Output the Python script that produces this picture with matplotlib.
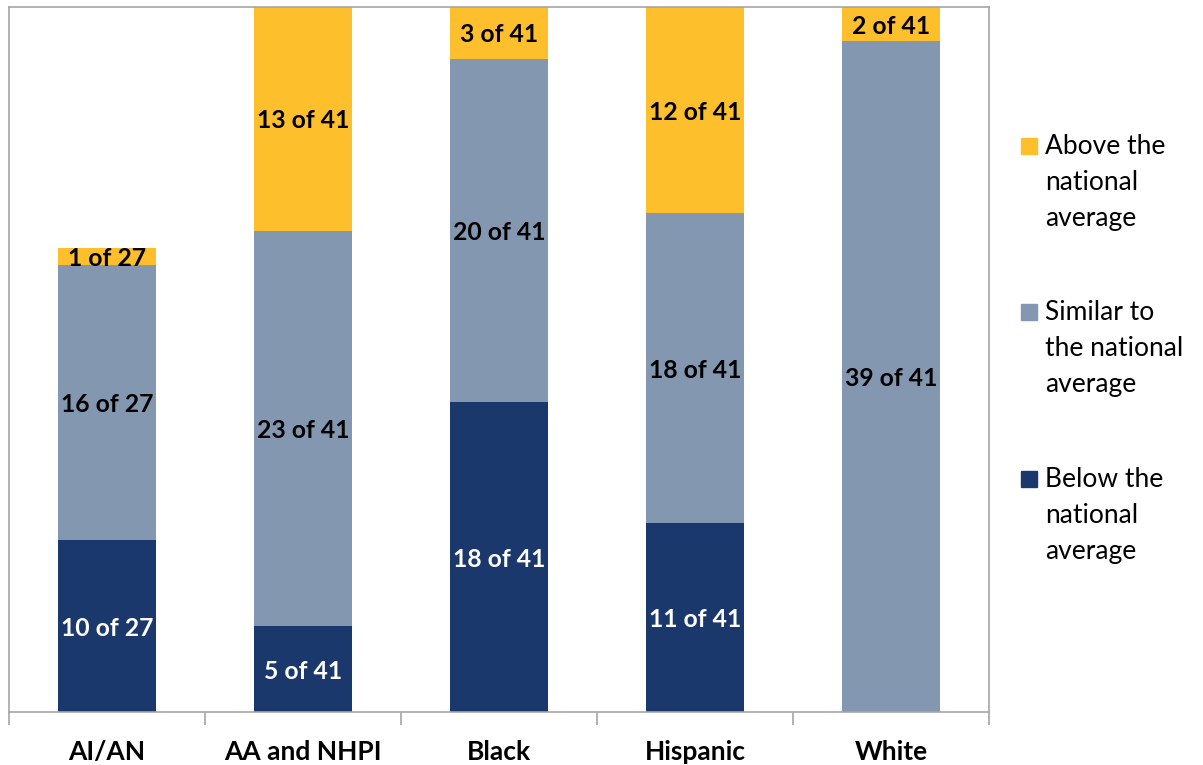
import numpy as np
import matplotlib.pyplot as plt
from matplotlib.patches import Rectangle

groups = ["AI/AN", "AA and NHPI", "Black", "Hispanic", "White"]
totals = [27, 41, 41, 41, 41]
below = [10, 5, 18, 11, 0]
similar = [16, 23, 20, 18, 39]
above = [1, 13, 3, 12, 2]

series = [
    ("Below the\nnational\naverage", below, "#1b386d", "white"),
    ("Similar to\nthe national\naverage", similar, "#8497b0", "black"),
    ("Above the\nnational\naverage", above, "#fdbf2b", "black"),
]

plt.rcParams['font.family'] = ['Lato', 'DejaVu Sans']

fig = plt.figure(figsize=(12.03, 7.65), dpi=100)
ax = fig.add_axes([9/1203, 53/765, 980/1203, 705/765])

x = np.arange(len(groups))
base = np.zeros(len(groups))
for name, vals, col, tcol in series:
    vals = np.array(vals, dtype=float)
    ax.bar(x, vals, 0.505, bottom=base, color=col, edgecolor="none")
    for i in range(len(groups)):
        if vals[i] > 0:
            ax.text(x[i], base[i] + vals[i] / 2, f"{int(vals[i])} of {totals[i]}",
                    ha="center", va="center_baseline", color=tcol, fontsize=17.8,
                    fontweight="bold")
    base += vals

ax.set_xlim(-0.5, len(groups) - 0.5)
ax.set_ylim(0, 41)
ax.set_yticks([])
ax.set_xticks(x)
ax.set_xticklabels(groups, fontsize=19, fontweight="bold")
ax.tick_params(axis="x", which="major", length=0, pad=20)
ax.set_xticks(np.arange(-0.5, len(groups)), minor=True)
ax.tick_params(axis="x", which="minor", length=9, color="#a6a6a6", width=1.2)
for s in ax.spines.values():
    s.set_color("#a6a6a6")
    s.set_linewidth(1.2)

# legend drawn by hand so the swatch sits at the first text line
leg_top = [146, 312, 479]
for (name, vals, col, tcol), ytop in zip(series[::-1], leg_top):
    fig.patches.append(Rectangle((1021/1203, 1 - (ytop + 8)/765), 16/1203, 16/765,
                                 transform=fig.transFigure, color=col))
    fig.text(1045/1203, 1 - (ytop - 12)/765, name, fontsize=19, va="top", ha="left",
             linespacing=1.55)

fig.savefig("out.png", dpi=100)
